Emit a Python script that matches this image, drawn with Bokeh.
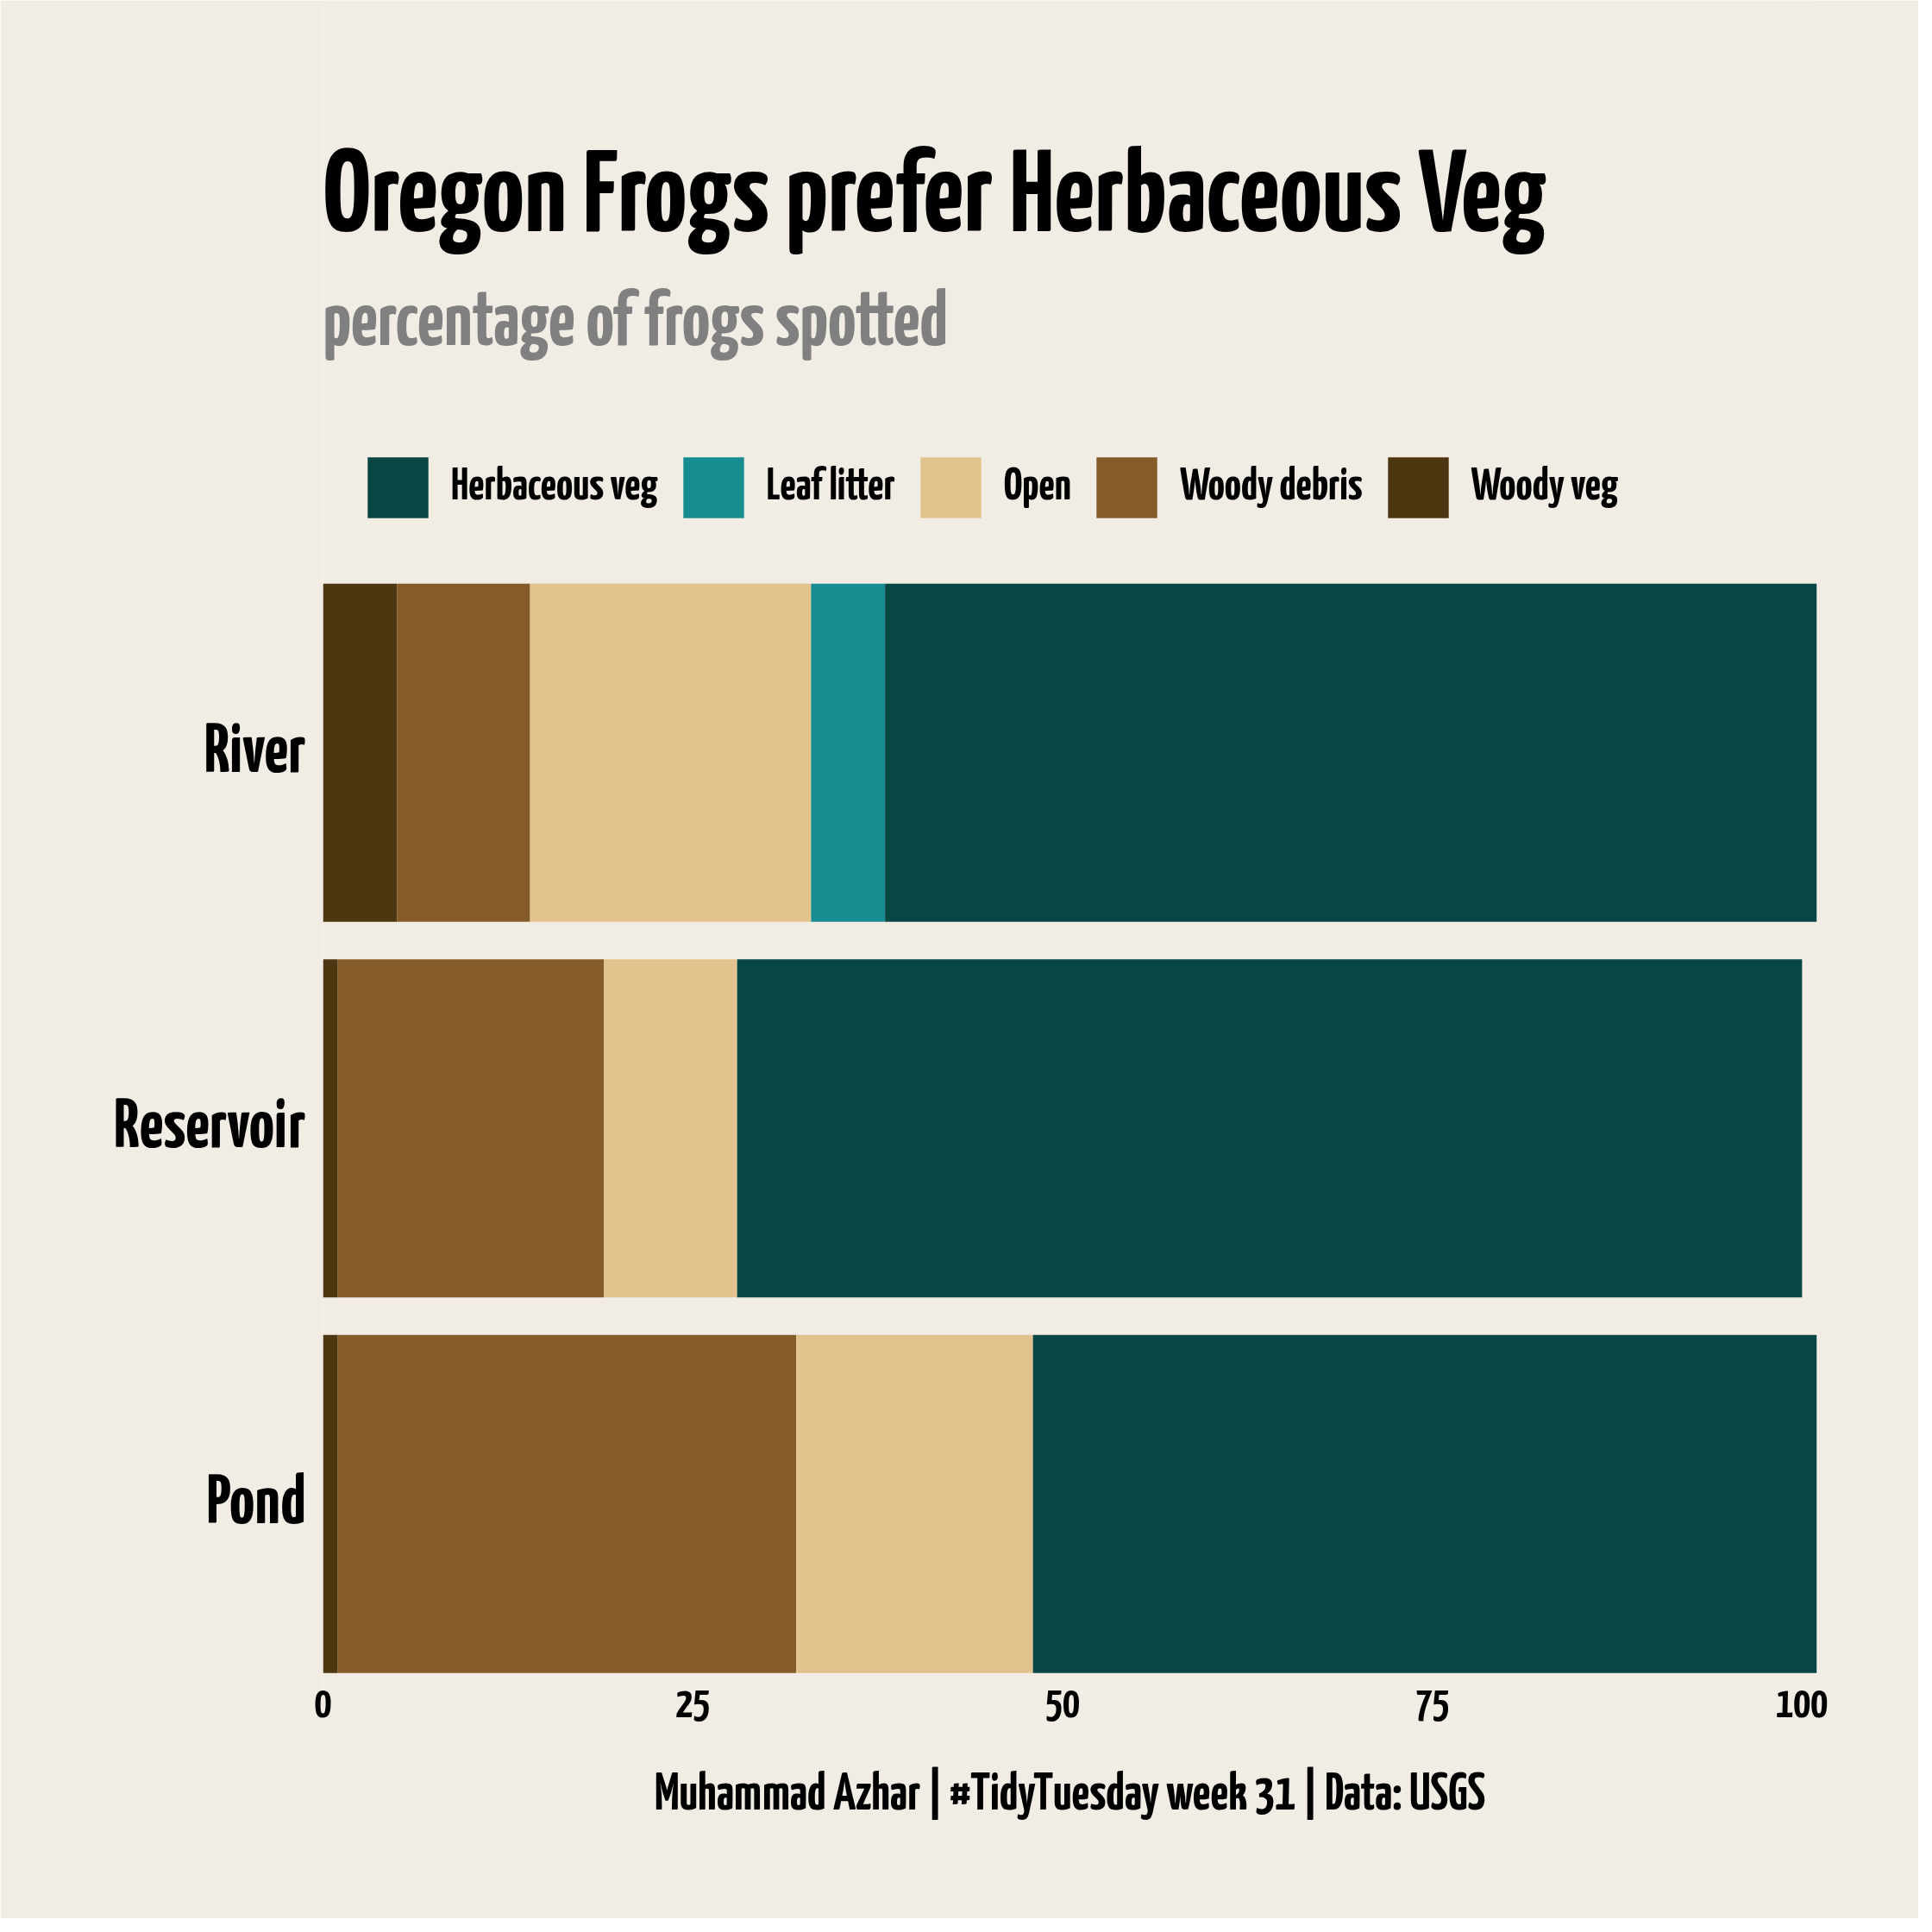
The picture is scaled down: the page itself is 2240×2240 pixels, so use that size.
from bokeh.plotting import figure
from bokeh.models import Range1d, Legend, LegendItem, Label, ColumnDataSource, FixedTicker
from bokeh.embed import file_html
from bokeh.resources import INLINE

# ---- data ----
sites = ["River", "Reservoir", "Pond"]          # top to bottom
habitats = ["Woody veg", "Woody debris", "Open", "Leaf litter", "Herbaceous veg"]
woody_veg = [5, 1, 1]
woody_debris = [9, 18, 31]
open_area = [19, 9, 16]
leaf_litter = [5, 0, 0]
herbaceous_veg = [63, 72, 53]
x_ticks = [0, 25, 50, 75, 100]

title_text = "Oregon Frogs prefer Herbaceous Veg"
subtitle_text = "percentage of frogs spotted"
caption_text = "Muhammad Azhar | #TidyTuesday week 31 | Data: USGS"

colors = {
    "Herbaceous veg": "#084646",
    "Leaf litter": "#178d91",
    "Open": "#e2c38d",
    "Woody debris": "#855c29",
    "Woody veg": "#4d3710",
}

FONT = "Yanone Kaffeesatz"
BG = "#f1ece4"

# category positions (bottom category = 1)
ypos = [len(sites) - i for i in range(len(sites))]

src = ColumnDataSource(dict(
    site=sites, ypos=ypos,
    **{"Woody veg": woody_veg, "Woody debris": woody_debris, "Open": open_area,
       "Leaf litter": leaf_litter, "Herbaceous veg": herbaceous_veg}))

W, H = 2224, 2224
p = figure(width=W, height=H, output_backend="svg", toolbar_location=None,
           title_location=None,
           y_range=Range1d(0.5, 5.003), x_range=Range1d(0, 101),
           min_border_left=374, min_border_right=118, min_border_top=0,
           min_border_bottom=263)
p.background_fill_color = BG
p.border_fill_color = BG
p.outline_line_color = None
p.grid.visible = False

rs = p.hbar_stack(habitats, y="ypos", height=0.9, source=src,
                  color=[colors[h] for h in habitats], line_color=None)

# axes
p.xaxis.ticker = FixedTicker(ticks=x_ticks)
p.xaxis.axis_line_color = None
p.xaxis.major_tick_line_color = None
p.xaxis.minor_tick_line_color = None
p.xaxis.major_label_text_font = FONT
p.xaxis.major_label_text_font_style = "bold"
p.xaxis.major_label_text_font_size = "50px"
p.xaxis.major_label_text_color = "black"
p.xaxis.major_label_standoff = -13
p.xaxis.axis_label = caption_text
p.xaxis.axis_label_text_font = FONT
p.xaxis.axis_label_text_font_style = "bold"
p.xaxis.axis_label_text_font_size = "60px"
p.xaxis.axis_label_text_color = "black"
p.xaxis.axis_label_standoff = 60

p.yaxis.ticker = FixedTicker(ticks=ypos)
p.yaxis.major_label_overrides = {y: s for y, s in zip(ypos, sites)}
p.yaxis.axis_line_color = None
p.yaxis.major_tick_line_color = None
p.yaxis.minor_tick_line_color = None
p.yaxis.major_label_text_font = FONT
p.yaxis.major_label_text_font_style = "bold"
p.yaxis.major_label_text_font_size = "81px"
p.yaxis.major_label_text_color = "black"
p.yaxis.major_label_standoff = 14

# legend
order = ["Herbaceous veg", "Leaf litter", "Open", "Woody debris", "Woody veg"]
items = [LegendItem(label=h, renderers=[rs[habitats.index(h)]]) for h in order]
legend = Legend(items=items, orientation="horizontal", location=(43, 1352),
                glyph_width=88, glyph_height=88, label_standoff=18, spacing=20,
                padding=0, margin=0, border_line_color=None,
                background_fill_alpha=0,
                label_text_font=FONT, label_text_font_style="bold",
                label_text_font_size="53px", label_text_color="black")
p.add_layout(legend, "center")

# title / subtitle
p.add_layout(Label(x=0, y=1730, x_units="screen", y_units="screen", text=title_text,
                   text_font=FONT, text_font_style="bold", text_font_size="136px",
                   text_color="black", text_baseline="alphabetic", text_align="left"))
p.add_layout(Label(x=0, y=1586, x_units="screen", y_units="screen", text=subtitle_text,
                   text_font=FONT, text_font_style="bold", text_font_size="90px",
                   text_color="#808080", text_baseline="alphabetic", text_align="left"))

open("out.html", "w").write(file_html(p, INLINE))
